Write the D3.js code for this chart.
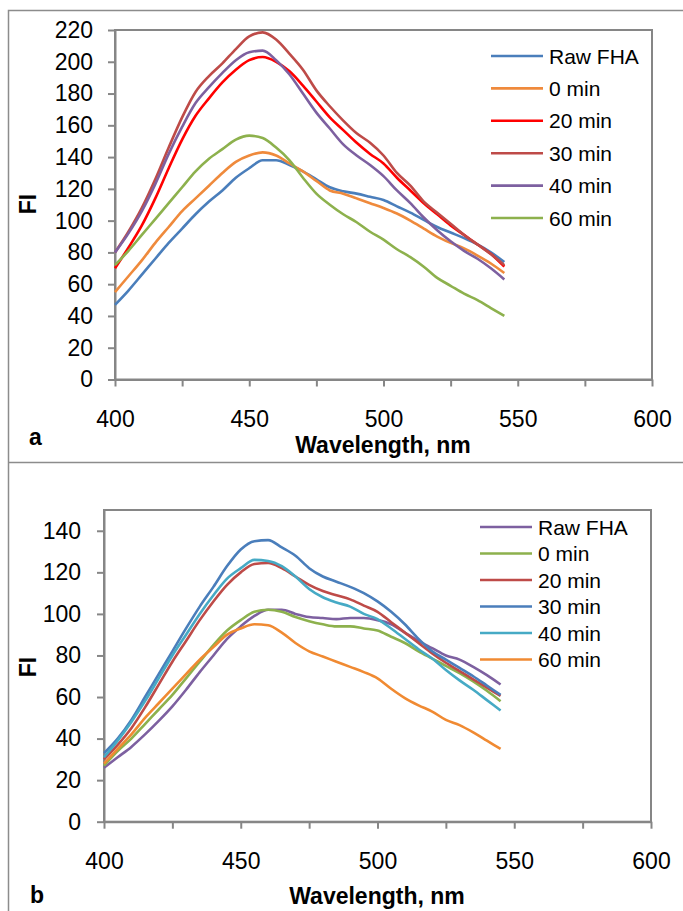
<!DOCTYPE html>
<html>
<head>
    <meta charset="UTF-8">
    <title>FI vs Wavelength</title>
    <script src="https://d3js.org/d3.v7.min.js"></script>
    <style>
        body {
            margin: 0;
            padding: 0;
            background: #fff;
        }
        svg text {
            font-family: "Liberation Sans", Arial, sans-serif;
            fill: #000;
        }
        .axis path, .axis line {
            stroke: #868686;
            stroke-width: 2;
        }
        .axis text {
            font-size: 23px;
        }
        .axis-title {
            font-size: 23px;
            font-weight: bold;
        }
        .legend text {
            font-size: 21px;
        }
    </style>
</head>
<body>
    <svg id="chart" width="683" height="911"></svg>

    <script>
        // wavelength (nm), one reading every 5 nm
        const wavelengths = [400, 405, 410, 415, 420, 425, 430, 435, 440, 445,
                             450, 455, 460, 465, 470, 475, 480, 485, 490, 495,
                             500, 505, 510, 515, 520, 525, 530, 535, 540, 545];

        const seriesNames = ["Raw FHA", "0 min", "20 min", "30 min", "40 min", "60 min"];

        // panel a
        const rawFhaA = [47, 56, 66, 76, 86, 95, 104, 112, 119, 127,
                         133, 138, 138, 135, 131, 126, 121, 118.5, 117, 115,
                         113, 109, 105, 100.5, 96, 92.5, 89, 85, 80, 74];
        const min0A   = [55, 65, 75, 86, 96, 106, 114, 122, 130, 137,
                         141, 143, 141, 136, 131, 125, 119, 117, 114, 111,
                         108, 104.5, 100, 95, 90, 86, 82.5, 78, 73, 67];
        const min20A  = [70, 83, 97, 114, 133, 151, 166, 177, 187, 195,
                         201, 203, 200, 194, 185, 175, 165, 157, 149, 142,
                         136, 127, 119, 111, 104, 97, 91, 85, 79, 71];
        const min30A  = [80, 93, 108, 126, 146, 165, 181, 191, 199, 208,
                         216, 218.5, 214, 205, 195, 182, 172, 163, 155, 149,
                         141, 130, 122, 112, 105, 98, 91, 85, 79, 72];
        const min40A  = [80, 92, 106, 123, 142, 159, 174, 184, 193, 201,
                         206, 207, 201, 192, 180, 168, 158, 148, 141, 135,
                         128, 119, 111, 102, 94, 87, 81, 76, 70, 63];
        const min60A  = [72, 81, 91, 101, 111, 121, 131, 139, 145, 151,
                         153.5, 152, 146, 138, 127, 117, 110, 104, 99, 93,
                         88, 82, 77, 71, 64, 59, 54, 50, 45, 40];

        // panel b
        const rawFhaB = [26, 31, 36, 42, 48.5, 55.5, 63.5, 72, 80, 88,
                         94, 99, 102, 102, 100, 98.5, 98, 97.5, 98, 98,
                         97, 95, 91, 87, 83.5, 80, 78, 74.5, 70.5, 66];
        const min0B   = [27, 34, 40, 47, 54, 61, 69, 77, 85, 92,
                         97, 101, 102, 101, 98.5, 96.5, 95, 94, 94, 93,
                         92, 89, 86, 82, 78.5, 75, 71.5, 67.5, 63, 58];
        const min20B  = [30, 37, 45, 55, 66, 77, 87, 97, 106, 114,
                         120, 124, 124.5, 122, 118, 114, 111, 109, 107, 104,
                         101, 96, 91, 86, 81, 76.5, 72.5, 68.5, 64.5, 60.5];
        const min30B  = [33, 40, 49, 60, 71, 82, 93, 103.5, 113, 123,
                         131, 135, 135.5, 132, 128, 122, 118, 115.5, 113, 110,
                         106, 101, 95, 88, 82, 78, 74, 70, 65.5, 61];
        const min40B  = [31, 39, 48, 58, 69, 80, 90, 100, 109, 117,
                         122, 126, 125.5, 123, 118, 112, 108, 105.5, 103.5, 100,
                         97.5, 93, 88, 83, 78.5, 73, 68, 63.5, 58.5, 53.5];
        const min60B  = [28, 35, 42, 50, 57, 64, 71, 78, 84, 90,
                         93, 95, 94.5, 91, 86, 82, 79.5, 77, 74.5, 72,
                         69, 64, 59.5, 56, 53, 49, 46.5, 43, 39, 35];

        const xTicks = [400, 425, 450, 475, 500, 525, 550, 575, 600];
        const yTicksA = [0, 20, 40, 60, 80, 100, 120, 140, 160, 180, 200, 220];
        const yTicksB = [0, 20, 40, 60, 80, 100, 120, 140];

        const colorsA = ["#4a7ebb", "#ef8a3c", "#ff0000", "#be4b48", "#7d60a0", "#8db14d"];
        const colorsB = ["#7d60a0", "#8db14d", "#be4b48", "#4a7ebb", "#46aac5", "#f08a32"];

        const svg = d3.select("#chart");

        // outer frames of the two panels
        svg.append("path")
            .attr("d", "M690,10.5 H8.5 V462.5 H690 M8.5,462.5 V920")
            .attr("fill", "none")
            .attr("stroke", "#8c8c8c")
            .attr("stroke-width", 1.5);

        function drawPanel(cfg) {
            const x = d3.scaleLinear().domain([400, 600]).range([cfg.left, cfg.right]);
            const y = d3.scaleLinear().domain([0, cfg.yMax]).range([cfg.bottom, cfg.top]);

            // plot area border
            svg.append("rect")
                .attr("x", cfg.left)
                .attr("y", cfg.top)
                .attr("width", cfg.right - cfg.left)
                .attr("height", cfg.bottom - cfg.top)
                .attr("fill", "none")
                .attr("stroke", "#868686")
                .attr("stroke-width", 2);

            svg.append("g")
                .attr("class", "axis")
                .attr("transform", `translate(0,${cfg.bottom})`)
                .call(d3.axisBottom(x)
                    .tickValues(xTicks)
                    .tickSize(7)
                    .tickSizeOuter(0)
                    .tickPadding(24)
                    .tickFormat(d => d % 50 === 0 ? d : ""));

            svg.append("g")
                .attr("class", "axis")
                .attr("transform", `translate(${cfg.left},0)`)
                .call(d3.axisLeft(y)
                    .tickValues(cfg.yTicks)
                    .tickSize(7)
                    .tickSizeOuter(0)
                    .tickPadding(cfg.yPad));

            svg.selectAll(".axis .domain").attr("stroke", "#868686");

            const line = d3.line()
                .x((d, i) => x(wavelengths[i]))
                .y(d => y(d))
                .curve(d3.curveMonotoneX);

            cfg.series.forEach((s, i) => {
                svg.append("path")
                    .datum(s)
                    .attr("fill", "none")
                    .attr("stroke", cfg.colors[i])
                    .attr("stroke-width", 2.6)
                    .attr("stroke-linejoin", "round")
                    .attr("d", line);
            });

            // legend
            const legend = svg.append("g").attr("class", "legend");
            seriesNames.forEach((name, i) => {
                const ly = cfg.legendY + i * cfg.legendStep;
                legend.append("line")
                    .attr("x1", cfg.legendX)
                    .attr("x2", cfg.legendX + 52)
                    .attr("y1", ly)
                    .attr("y2", ly)
                    .attr("stroke", cfg.colors[i])
                    .attr("stroke-width", 2.6);
                legend.append("text")
                    .attr("x", cfg.legendX + 58)
                    .attr("y", ly + 7.5)
                    .text(name);
            });

            // axis titles and panel letter
            svg.append("text")
                .attr("class", "axis-title")
                .attr("transform", `translate(36,${cfg.fiY}) rotate(-90)`)
                .attr("text-anchor", "middle")
                .text("FI");

            svg.append("text")
                .attr("class", "axis-title")
                .attr("x", cfg.titleX)
                .attr("y", cfg.titleY)
                .attr("text-anchor", "middle")
                .text("Wavelength, nm");

            svg.append("text")
                .attr("class", "axis-title")
                .attr("x", cfg.letterX)
                .attr("y", cfg.letterY)
                .text(cfg.letter);
        }

        drawPanel({
            left: 115, right: 652, top: 30, bottom: 379.5,
            yMax: 220, yTicks: yTicksA, yPad: 15,
            series: [rawFhaA, min0A, min20A, min30A, min40A, min60A],
            colors: colorsA,
            legendX: 491, legendY: 56, legendStep: 32.4,
            fiY: 204, titleX: 383, titleY: 453,
            letter: "a", letterX: 29, letterY: 445
        });

        drawPanel({
            left: 104, right: 651, top: 510, bottom: 821.7,
            yMax: 150, yTicks: yTicksB, yPad: 16,
            series: [rawFhaB, min0B, min20B, min30B, min40B, min60B],
            colors: colorsB,
            legendX: 480, legendY: 527, legendStep: 26.5,
            fiY: 667, titleX: 377, titleY: 904,
            letter: "b", letterX: 30, letterY: 903
        });
    </script>
</body>
</html>
